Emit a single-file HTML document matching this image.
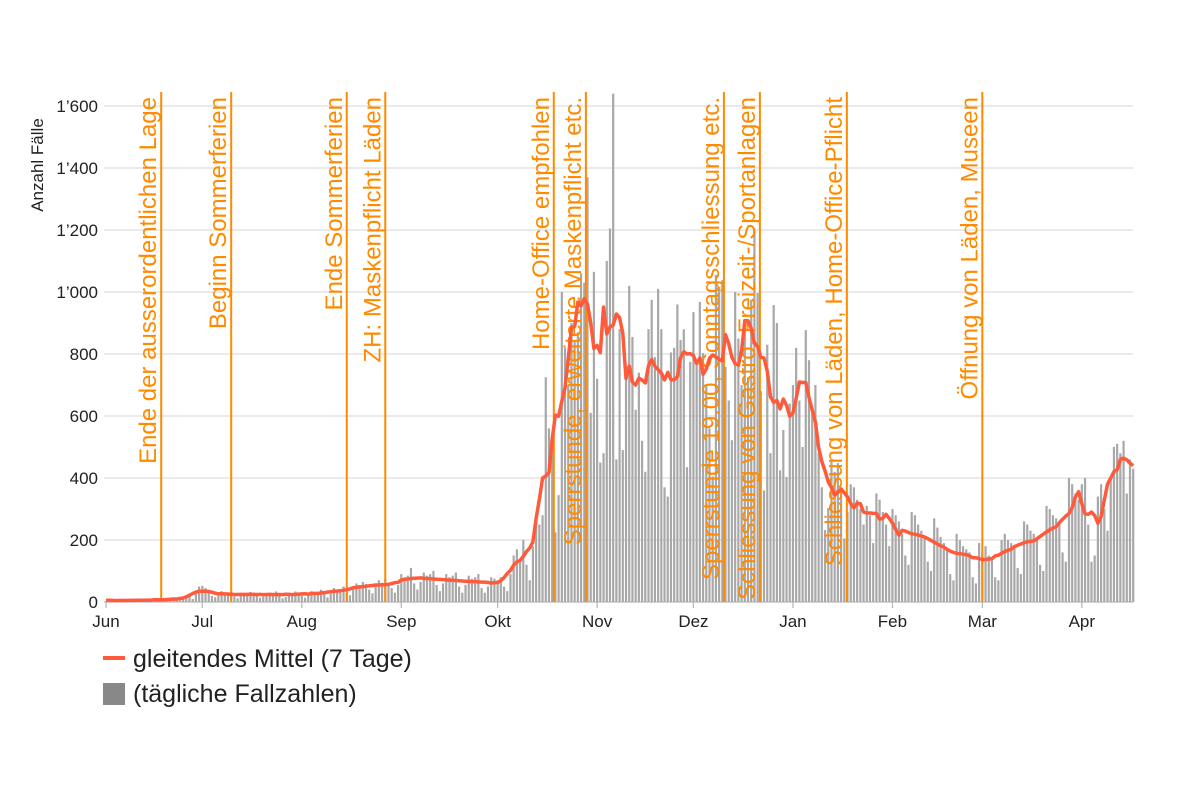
<!DOCTYPE html>
<html><head><meta charset="utf-8"><style>
html,body{margin:0;padding:0;background:#fff;}
svg{display:block;font-family:"Liberation Sans",Arial,sans-serif;}
</style></head><body>
<svg id="chart" width="1200" height="800">
<g id="grid"></g>
<g id="bars"></g>
<g id="events"></g>
<g id="line"></g>
<g id="axes"></g>
<text x="43" y="165" transform="rotate(-90 43 165)" text-anchor="middle" font-size="17" fill="#222">Anzahl Fälle</text>
<g>
<line x1="103" y1="658" x2="125" y2="658" stroke="#ff5a3c" stroke-width="4"/>
<text x="133" y="667" font-size="25" fill="#222">gleitendes Mittel (7 Tage)</text>
<rect x="103" y="683" width="22" height="22" fill="#888"/>
<text x="133" y="702" font-size="25" fill="#222">(tägliche Fallzahlen)</text>
</g>
</svg>
<script>
const monthLabels = ["Jun","Jul","Aug","Sep","Okt","Nov","Dez","Jan","Feb","Mar","Apr"];
const monthStartDays = [0,30,61,92,122,153,183,214,245,273,304];
const yTicks = [0,200,400,600,800,1000,1200,1400,1600];
const yTickLabels = ["0","200","400","600","800","1’000","1’200","1’400","1’600"];
const dailyCases = [
2,6,8,5,7,3,1,3,9,6,8,7,4,2,4,10,8,9,12,5,3,6,14,12,15,11,20,10,35,50,
52,45,30,20,15,25,35,28,30,32,18,12,20,30,28,32,30,20,14,18,28,30,26,34,22,12,16,30,28,34,30,
20,14,22,35,30,28,40,25,15,30,45,40,38,50,30,22,40,60,55,65,58,40,28,50,70,62,75,60,45,30,55,
90,80,85,110,60,40,65,95,85,90,100,55,35,60,90,80,85,95,50,30,55,85,75,80,90,45,30,50,80,75,
70,80,50,35,90,150,170,140,200,120,70,180,260,250,280,725,560,545,225,345,1000,820,700,900,845,870,1060,1030,1370,610,1065,
720,450,480,1100,1205,1640,460,880,490,725,1020,855,620,740,520,420,880,975,790,1010,880,370,340,805,820,960,845,880,435,775,
935,770,968,803,700,560,405,1055,1016,1038,758,650,522,1000,850,700,900,725,975,1205,997,680,360,830,480,958,900,425,555,403,640,
700,820,650,500,877,780,630,700,480,370,232,303,458,420,448,350,205,290,380,370,330,300,250,310,280,190,350,330,290,250,180,
300,280,260,220,150,120,290,280,250,230,210,130,100,270,240,210,190,170,90,70,220,200,180,170,160,80,60,190,
160,180,150,140,80,70,200,220,200,190,180,110,90,260,250,230,220,200,120,100,310,300,280,270,250,160,130,400,380,350,330,
380,400,250,130,150,340,380,300,230,400,500,510,480,520,350,460,430
];
const eventDays = [17.2,39,75,87,139.5,149.5,192.5,203.7,230.8,273];
const eventLabels = ["Ende der ausserordentlichen Lage","Beginn Sommerferien","Ende Sommerferien","ZH: Maskenpflicht Läden","Home-Office empfohlen","Sperrstunde, erweiterte Maskenpflicht etc.","Sperrstunde 19.00, Sonntagsschliessung etc.","Schliessung von Gastro, Freizeit-/Sportanlagen","Schliessung von Läden, Home-Office-Pflicht","Öffnung von Läden, Museen"];

const NS="http://www.w3.org/2000/svg";
const X0=106, DAYPX=3.21, Y0=602, YPX=496/1600;
const x=d=>X0+d*DAYPX;
const y=v=>Y0-v*YPX;
function mk(tag,attrs,parent){const e=document.createElementNS(NS,tag);for(const k in attrs)e.setAttribute(k,attrs[k]);parent.appendChild(e);return e;}
const grid=document.getElementById('grid'),axes=document.getElementById('axes');
yTicks.forEach((t,i)=>{
  const l=mk('line',{x1:104,x2:1133,y1:y(t),y2:y(t),stroke:t===0?'#bbb':'#ddd','stroke-width':1.3},grid);
  
  
  const tx=mk('text',{x:98,y:y(t)+6,'text-anchor':'end','font-size':17,fill:'#222'},axes);
  tx.textContent=yTickLabels[i];
  
  
});
monthLabels.forEach((m,i)=>{
  const d=monthStartDays[i];
  const tk=mk('line',{x1:x(d),x2:x(d),y1:Y0,y2:Y0+6,stroke:'#bbb','stroke-width':1.3},axes);
  
  
  const tx=mk('text',{x:x(d),y:627,'text-anchor':'middle','font-size':17,fill:'#222'},axes);
  tx.textContent=m;
  
  
});
const bars=document.getElementById('bars');
dailyCases.forEach((v,d)=>{
  const r=mk('rect',{x:x(d)-1.1,y:y(v),width:2.2,height:Y0-y(v),fill:'#a8a8a8'},bars);
  
  
});
const ev=document.getElementById('events');
eventDays.forEach((d,i)=>{
  const l=mk('line',{x1:x(d),x2:x(d),y1:92,y2:Y0,stroke:'#ff8a00','stroke-width':2},ev);
  
  
  const tx=x(d)-5,ty=97;
  const t=mk('text',{x:tx,y:ty,transform:`rotate(-90 ${tx} ${ty})`,'text-anchor':'end','font-size':24,fill:'#ff8a00'},ev);
  t.textContent=eventLabels[i];
  
  
});
const pts=dailyCases.map((v,d)=>{
  let s=0,n=0;for(let k=d-3;k<=d+3;k++){if(k>=0&&k<dailyCases.length){s+=dailyCases[k];n++;}}
  return x(d).toFixed(1)+','+y(s/n).toFixed(1);
});
const pl=mk('polyline',{points:pts.join(' '),fill:'none',stroke:'#ff5a3c','stroke-width':3.5,'stroke-linejoin':'round'},document.getElementById('line'));


</script>
</body></html>
